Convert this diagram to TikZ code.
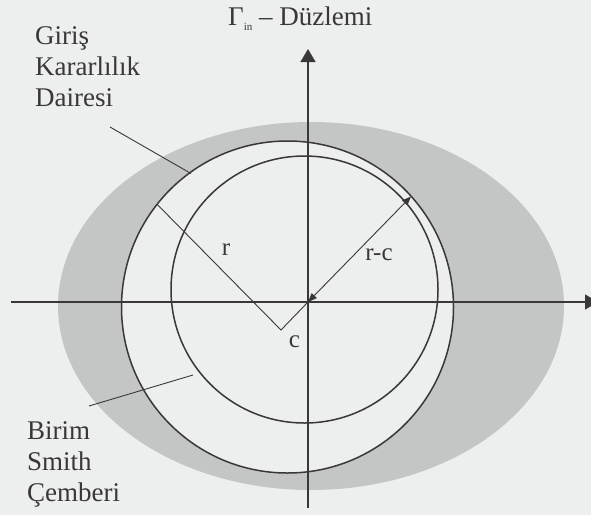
\documentclass[tikz,border=0pt]{standalone}
\usepackage{fontspec}
\setmainfont{Liberation Serif}
\usetikzlibrary{arrows.meta}
\definecolor{bgcol}{RGB}{236,239,237}
\definecolor{shadecol}{RGB}{196,197,197}
\definecolor{ink}{RGB}{58,56,54}
\begin{document}
\begin{tikzpicture}[x=1pt,y=-1pt,
  axis/.style={draw=ink,line width=1.3pt,-{Triangle[length=13pt,width=15pt]}},
  ring/.style={draw=ink,line width=1.5pt},
  thin/.style={draw=ink,line width=0.9pt},
  rc/.style={draw=ink,line width=0.9pt,{Triangle[length=9pt,width=7pt]}-{Triangle[length=9pt,width=7pt]}},
  lbl/.style={inner sep=0pt,text=ink,font=\fontsize{27}{31}\selectfont,align=left},
  sym/.style={inner sep=0pt,text=ink,font=\fontsize{25}{28}\selectfont}]
\useasboundingbox[fill=bgcol] (0,0) rectangle (591,515);
% shaded region outside the stability circle
\fill[shadecol] (311,306) ellipse [x radius=253pt, y radius=184pt];
\fill[bgcol] (287.5,307) circle [radius=166pt];
% circles
\draw[ring] (287.5,307) circle [radius=166pt];
\draw[ring] (304.5,289.5) circle [radius=133.5pt];
% coordinates
\coordinate (O) at (308,302);
\coordinate (C) at (281,330);
\coordinate (P) at (157.1,204.3);
\coordinate (T) at (411,196.5);
\coordinate (xs) at (11,302);
\coordinate (xe) at (598,302);
\coordinate (ys) at (308,508);
\coordinate (ye) at (308,49);
\coordinate (g1) at (110,127);
\coordinate (g2) at (191,173.5);
\coordinate (b1) at (89,406);
\coordinate (b2) at (193,375);
% axes
\draw[axis] (xs) -- (xe);
\draw[axis] (ys) -- (ye);
% radius lines
\draw[thin] (P) -- (C) -- (O);
\draw[rc] (O) -- (T);
% leaders
\draw[thin] (g1) -- (g2);
\draw[thin] (b1) -- (b2);
% labels
\node[lbl,anchor=base west] (title) at (228,25) {Γ\raisebox{-5pt}{\fontsize{11}{11}\selectfont in} – Düzlemi};
\node[lbl,anchor=base west] (giris) at (35,106.7) {Giriş\\Kararlılık\\Dairesi};
\node[lbl,anchor=base west] (birim) at (27,501.7) {Birim\\Smith\\Çemberi};
\node[sym,anchor=base] (rlab) at (226,255) {r};
\node[sym,anchor=base] (clab) at (294.5,347) {c};
\node[sym,anchor=base] (rclab) at (379,260) {r-c};
\end{tikzpicture}
\end{document}
